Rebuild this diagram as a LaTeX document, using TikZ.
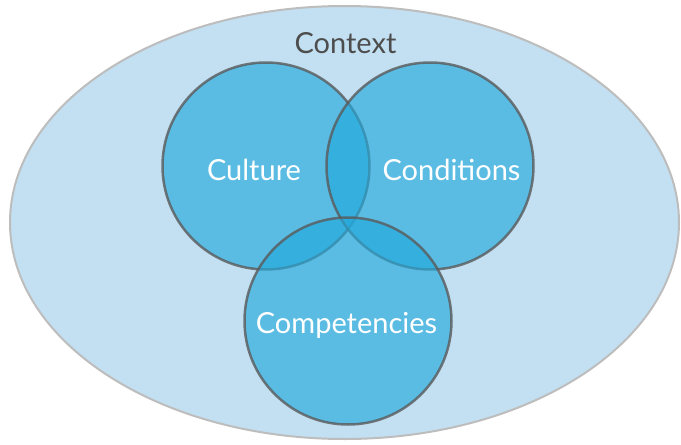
\documentclass[tikz,border=0pt]{standalone}
\usepackage{fontspec}
\setmainfont{Lato}
\usetikzlibrary{shapes.geometric}
\definecolor{ctxfill}{HTML}{C2E0F2}
\definecolor{ctxline}{HTML}{BDBDBD}
\definecolor{vennfill}{HTML}{21A9DC}
\definecolor{vennline}{HTML}{5A5A5A}
\definecolor{ctxtext}{HTML}{4D4D4D}
\tikzset{
        ctx/.style = {draw=ctxline, fill=ctxfill, ellipse,
            line width=2pt, inner sep=0pt,
            minimum width=669pt, minimum height=433pt},
        venn/.style = {draw=vennline, fill=vennfill, circle,
            fill opacity=0.64, draw opacity=0.8,
            line width=2.5pt, inner sep=0pt, minimum size=207pt},
        lbl/.style = {text=white, anchor=base,
            font=\fontsize{29}{29}\selectfont},
    }

\begin{document}
\begin{tikzpicture}[x=1pt,y=-1pt]
    \useasboundingbox (0,0) rectangle (681,445);

    \node[ctx] (context) at (344.5,222.5) {};

    % the three overlapping sets
    \node[venn] (culture) at (266,166) {};
    \node[venn] (conditions) at (430,166) {};
    \node[venn] (competencies) at (348,321) {};

    \node[lbl, text=ctxtext] (contextlbl) at (345.5,53) {Context};
    \node[lbl] (culturelbl) at (254,180) {Culture};
    \node[lbl] (conditionslbl) at (451.5,180) {Conditions};
    \node[lbl] (competencieslbl) at (346.5,333) {Competencies};
\end{tikzpicture}
\end{document}
